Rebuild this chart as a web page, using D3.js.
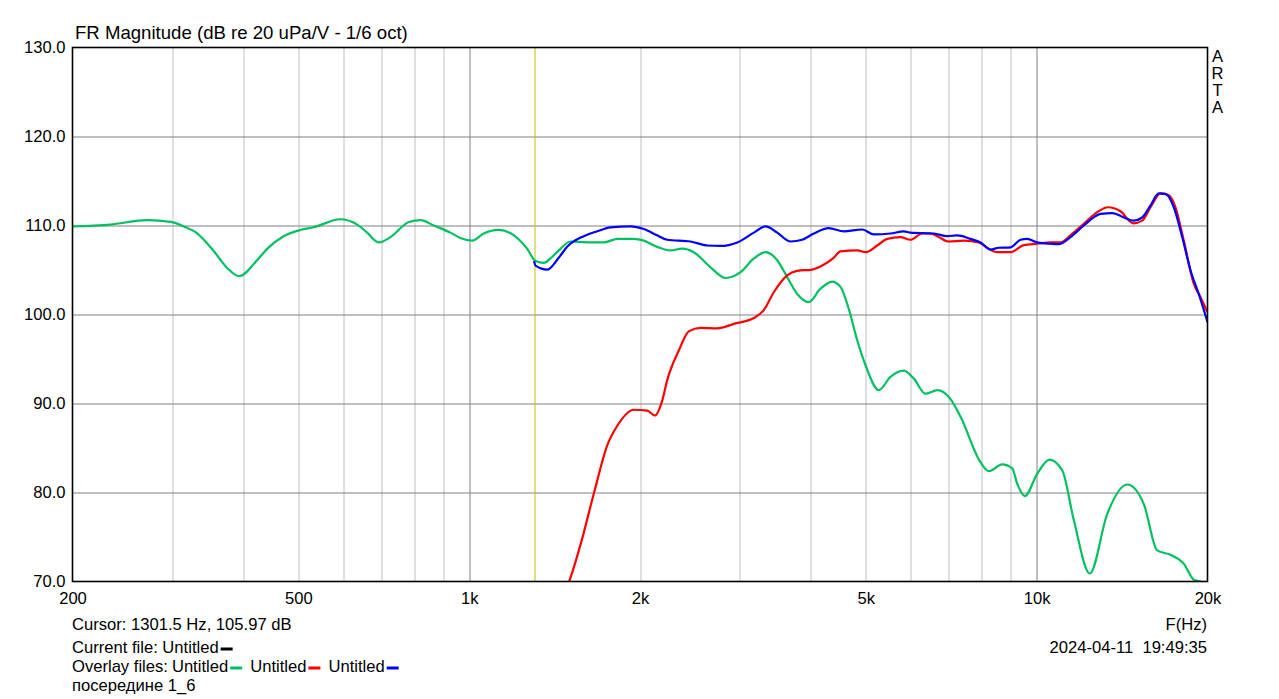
<!DOCTYPE html>
<html>
<head>
<meta charset="utf-8">
<script src="https://cdn.jsdelivr.net/npm/d3@7"></script>
<style>
  body { margin: 0; background: #fff; }
  svg text { font-family: "Liberation Sans", Arial, sans-serif; fill: #000; }
</style>
</head>
<body>
<script>
// values (Hz / dB)
const greenFreq = [200,233,271,298,314,332,354,375,393,423,441,471,504,532,593,635,661,693,727,783,821,866,927,965,1012,1061,1128,1199,1265,1309,1354,1391,1439,1508,1614,1727,1824,1950,2031,2144,2264,2374,2488,2662,2830,3008,3175,3329,3490,3634,3785,3966,4160,4363,4512,4667,4828,4994,5270,5526,5832,6074,6370,6680,7050,7344,7962,8234,8694,9056,9240,9530,10022,10534,11092,11626,12406,13316,14440,15446,16306,17208,18166,18920,19442,20000];
const greenDb = [109.9,110.1,110.6,110.4,109.9,109.1,107.2,105.2,104.3,106.1,107.4,108.8,109.5,109.8,110.7,110.1,109.2,108.1,108.7,110.4,110.6,110.0,109.2,108.6,108.3,109.1,109.5,108.9,107.4,106.0,105.8,106.3,107.2,108.2,108.1,108.1,108.5,108.5,108.3,107.6,107.2,107.4,107.0,105.3,104.1,104.75,106.3,107.0,106.1,104.2,102.3,101.4,102.9,103.7,103.1,100.6,97.1,94.3,91.5,93.0,93.7,92.8,91.1,91.5,90.5,88.5,83.4,82.4,83.15,82.7,81.0,79.6,82.1,83.7,82.5,76.9,70.9,77.6,80.9,78.7,73.5,73.0,72.0,70.2,70.0,69.6];

const redFreq = [1466,1498,1572,1658,1751,1824,1950,2059,2124,2188,2233,2341,2438,2557,2736,2927,3175,3305,3442,3634,3785,4022,4190,4392,4512,4828,4994,5236,5454,5754,5994,6286,6500,6680,7002,7440,7908,8182,8520,8994,9492,10022,10576,11016,11472,12106,12782,13346,14050,14794,15344,15874,16532,17090,17562,18166,18920,19442,20000];
const redDb = [68.5,69.9,74.2,79.85,85.3,87.5,89.3,89.2,88.65,90.3,92.6,95.95,98.1,98.5,98.45,98.95,99.6,100.5,102.5,104.4,104.9,105.05,105.5,106.4,107.1,107.2,107.0,107.75,108.5,108.7,108.4,109.1,109.1,108.8,108.2,108.3,108.1,107.5,107.0,107.0,107.8,107.95,108.1,108.1,108.9,110.2,111.5,112.05,111.6,110.25,110.55,112.05,113.6,113.4,112.05,108.3,103.45,101.95,100.25];

const blueFreq = [1301,1309,1373,1439,1488,1592,1682,1774,1925,2031,2144,2233,2455,2626,2774,2968,3175,3329,3490,3684,3862,4050,4302,4574,4928,5165,5526,5832,5994,6589,6956,7246,7646,7962,8292,8576,8994,9366,9624,10022,10576,10940,11472,12106,12958,13590,14248,14820,15344,15874,16420,16866,17444,18050,18670,19306,20000];
const blueDb = [106.0,105.5,105.05,106.4,107.6,108.8,109.35,109.8,109.9,109.6,108.9,108.4,108.2,107.75,107.7,108.1,109.2,109.9,109.2,108.2,108.4,109.1,109.7,109.35,109.55,109.0,109.1,109.35,109.2,109.1,108.8,108.9,108.5,108.1,107.3,107.5,107.55,108.4,108.5,108.1,107.95,107.9,108.7,110.0,111.3,111.4,110.9,110.55,110.9,112.25,113.6,113.55,112.05,108.7,104.95,102.3,99.15];

const yTicks = [70, 80, 90, 100, 110, 120, 130];
const xTickValues = [200, 500, 1000, 2000, 5000, 10000, 20000];
const xTickLabels = ["200", "500", "1k", "2k", "5k", "10k", "20k"];
const minorGrid = [300, 400, 500, 600, 700, 800, 900, 2000, 3000, 4000, 5000, 6000, 7000, 8000, 9000];
const majorGrid = [1000, 10000];
const cursorFreq = 1301.5;
const cursorDb = 105.97;

const seriesNames = ["Untitled", "Untitled", "Untitled"];
const seriesColors = ["#00c060", "#ff0000", "#0000ff"];

// layout
const W = 1279, H = 699;
const margin = {top: 47.5, left: 72.5};
const width = 1207.5 - margin.left;
const height = 581.5 - margin.top;
const fs = "16.6px";

const svg = d3.select("body").append("svg")
  .attr("width", W)
  .attr("height", H);

const x = d3.scaleLog().domain([200, 20000]).range([0, width]);
const y = d3.scaleLinear().domain([70, 130]).range([height, 0]);

const chart = svg.append("g")
  .attr("transform", "translate(" + margin.left + "," + margin.top + ")");

chart.append("clipPath").attr("id", "clip")
  .append("rect").attr("width", width).attr("height", height);

// grid
chart.append("g").selectAll("line")
  .data(minorGrid).enter().append("line")
  .attr("x1", d => Math.round(x(d)) + 0.5).attr("x2", d => Math.round(x(d)) + 0.5)
  .attr("y1", 0).attr("y2", height)
  .attr("stroke", "#c0c0c0");

chart.append("g").selectAll("line")
  .data(majorGrid).enter().append("line")
  .attr("x1", d => Math.round(x(d)) + 0.5).attr("x2", d => Math.round(x(d)) + 0.5)
  .attr("y1", 0).attr("y2", height)
  .attr("stroke", "#808080");

chart.append("g").selectAll("line")
  .data(yTicks.slice(1, -1)).enter().append("line")
  .attr("x1", 0).attr("x2", width)
  .attr("y1", d => Math.round(y(d)) + 0.5).attr("y2", d => Math.round(y(d)) + 0.5)
  .attr("stroke", "#808080");

// axes (labels only, frame drawn separately)
const yAxis = d3.axisLeft(y).tickValues(yTicks).tickSize(0).tickPadding(7)
  .tickFormat(d3.format(".1f"));
const gy = chart.append("g").call(yAxis);
gy.select(".domain").remove();
gy.selectAll("text").style("font-size", fs).attr("fill", "#000")
  .attr("font-family", "Liberation Sans, Arial, sans-serif");

const xAxis = d3.axisBottom(x).tickValues(xTickValues).tickSize(0).tickPadding(11)
  .tickFormat((d, i) => xTickLabels[i]);
const gx = chart.append("g").attr("transform", "translate(0," + height + ")").call(xAxis);
gx.select(".domain").remove();
gx.selectAll("text").style("font-size", fs).attr("fill", "#000")
  .attr("font-family", "Liberation Sans, Arial, sans-serif");

// cursor
chart.append("line")
  .attr("x1", Math.round(x(cursorFreq)) + 0.5).attr("x2", Math.round(x(cursorFreq)) + 0.5)
  .attr("y1", 0).attr("y2", height)
  .attr("stroke", "#c8c000");

// curves
const line = d3.line()
  .x(d => x(d[0]))
  .y(d => y(d[1]))
  .curve(d3.curveMonotoneX);

const series = [
  d3.zip(greenFreq, greenDb),
  d3.zip(redFreq, redDb),
  d3.zip(blueFreq, blueDb)
];

chart.append("g").attr("clip-path", "url(#clip)")
  .selectAll("path")
  .data(series).enter().append("path")
  .attr("fill", "none")
  .attr("stroke", (d, i) => seriesColors[i])
  .attr("stroke-width", 2.2)
  .attr("stroke-linejoin", "round")
  .attr("d", line);

// frame
chart.append("rect")
  .attr("width", width).attr("height", height)
  .attr("fill", "none").attr("stroke", "#000").attr("stroke-width", 1.6);

// title
svg.append("text")
  .attr("x", 75).attr("y", 39)
  .style("font-size", "18.6px")
  .text("FR Magnitude (dB re 20 uPa/V - 1/6 oct)");

// ARTA vertical label
svg.append("g").selectAll("text")
  .data(["A", "R", "T", "A"]).enter().append("text")
  .attr("x", 1217.5).attr("y", (d, i) => 62 + i * 17)
  .attr("text-anchor", "middle")
  .style("font-size", fs)
  .text(d => d);

// footer
svg.append("text").attr("x", 1207).attr("y", 630).attr("text-anchor", "end")
  .style("font-size", fs).text("F(Hz)");
svg.append("text").attr("x", 1207).attr("y", 653).attr("text-anchor", "end")
  .style("font-size", fs).style("white-space", "pre").text("2024-04-11  19:49:35");

svg.append("text").attr("x", 72).attr("y", 630)
  .style("font-size", fs)
  .text("Cursor: " + cursorFreq + " Hz, " + cursorDb + " dB");

const cur = svg.append("text").attr("x", 72).attr("y", 653)
  .style("font-size", fs).text("Current file: Untitled");
const curEnd = 72 + cur.node().getComputedTextLength();
svg.append("rect").attr("x", curEnd + 2).attr("y", 647.5).attr("width", 12).attr("height", 3)
  .attr("fill", "#000");

let ox = 72;
const ov = svg.append("text").attr("x", ox).attr("y", 672)
  .style("font-size", fs).text("Overlay files:");
ox += ov.node().getComputedTextLength() + 4;
seriesNames.forEach((name, i) => {
  const t = svg.append("text").attr("x", ox).attr("y", 672)
    .style("font-size", fs).text(name);
  ox += t.node().getComputedTextLength();
  svg.append("rect").attr("x", ox + 2).attr("y", 666.5).attr("width", 12).attr("height", 3)
    .attr("fill", seriesColors[i]);
  ox += 22;
});

svg.append("text").attr("x", 72).attr("y", 691)
  .style("font-size", fs).text("посередине 1_6");
</script>
</body>
</html>
